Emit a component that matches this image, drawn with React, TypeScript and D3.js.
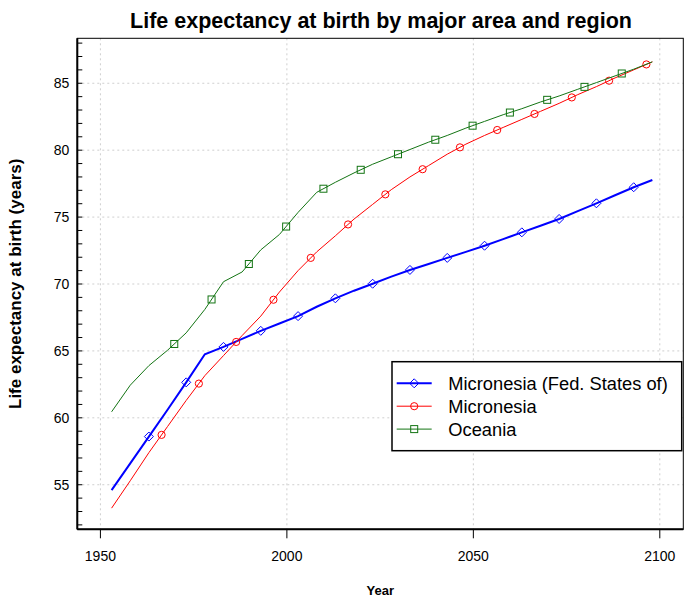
import * as d3 from "d3";

const years = d3.range(1953, 2099, 5);

const fsmValues = [
  54.6, 56.6, 58.6, 60.6, 62.65, 64.75, 65.3, 65.9, 66.5, 67.05, 67.6, 68.3,
  68.93, 69.5, 70.02, 70.55, 71.05, 71.5, 71.95, 72.4, 72.86, 73.35, 73.86,
  74.35, 74.86, 75.45, 76.03, 76.63, 77.23, 77.77,
];

const micronesiaValues = [
  53.25, 55.3, 57.4, 59.35, 61.3, 63.15, 64.65, 66.15, 67.6, 69.4, 71.0, 72.4,
  73.6, 74.85, 75.95, 77.05, 78.0, 78.85, 79.7, 80.45, 81.1, 81.7, 82.3, 82.9,
  83.5, 84.15, 84.75, 85.4, 86.0, 86.6,
];

const oceaniaValues = [
  60.45, 62.44, 63.9, 65.05, 66.35, 68.1, 70.17, 70.9, 72.55, 73.7, 75.35,
  76.85, 77.6, 78.3, 78.95, 79.5, 80.05, 80.6, 81.1, 81.65, 82.15, 82.65, 83.1,
  83.6, 84.05, 84.55, 85.05, 85.55, 86.05, 86.6,
];

const seriesNames = ["Micronesia (Fed. States of)", "Micronesia", "Oceania"];

const xTicks = [1950, 2000, 2050, 2100];
const yTicks = [55, 60, 65, 70, 75, 80, 85];

type Shape = "diamond" | "circle" | "square";

const series = [
  { name: seriesNames[0], values: fsmValues, color: "#0000ff", width: 2, shape: "diamond" as Shape, markFrom: 1963 },
  { name: seriesNames[1], values: micronesiaValues, color: "#ff0000", width: 1, shape: "circle" as Shape, markFrom: 1966.4 },
  { name: seriesNames[2], values: oceaniaValues, color: "#137413", width: 1, shape: "square" as Shape, markFrom: 1969.8 },
];

const font = "'Liberation Sans', Arial, Helvetica, sans-serif";

const Marker = ({ x, y, shape, color }: { x: number; y: number; shape: Shape; color: string }) => {
  if (shape === "diamond") {
    const r = 4.5;
    return (
      <path
        d={`M${x},${y - r}L${x + r},${y}L${x},${y + r}L${x - r},${y}Z`}
        fill="none"
        stroke={color}
        strokeWidth={1}
      />
    );
  }
  if (shape === "circle") {
    return <circle cx={x} cy={y} r={3.6} fill="none" stroke={color} strokeWidth={1} />;
  }
  return <rect x={x - 3.5} y={y - 3.5} width={7} height={7} fill="none" stroke={color} strokeWidth={1} />;
};

export default function App() {
  const width = 695;
  const height = 600;
  const left = 77.3;
  const right = 683.3;
  const top = 38.3;
  const bottom = 529.3;

  const xScale = d3.scaleLinear().domain([1943.8, 2106.3]).range([left, right]);
  const yScale = d3.scaleLinear().domain([51.67, 88.36]).range([bottom, top]);

  const line = d3
    .line<number>()
    .x((_, i) => xScale(years[i]))
    .y((d) => yScale(d));

  // marker position along a series line
  const interp = (values: number[], yr: number) => {
    const i = Math.min(Math.floor((yr - years[0]) / 5), years.length - 2);
    const t = (yr - years[i]) / 5;
    return values[i] + (values[i + 1] - values[i]) * t;
  };

  const minorTicks = d3.range(52, 89, 1);

  return (
    <div style={{ position: "fixed", left: 0, top: 0 }}>
      <svg width={width} height={height} style={{ display: "block", background: "#fff" }} fontFamily={font}>
        {/* grid */}
        {xTicks.map((t) => (
          <line key={"gx" + t} x1={xScale(t)} x2={xScale(t)} y1={top} y2={bottom} stroke="#cfcfcf" strokeDasharray="2,3" />
        ))}
        {yTicks.map((t) => (
          <line key={"gy" + t} x1={left} x2={right} y1={yScale(t)} y2={yScale(t)} stroke="#cfcfcf" strokeDasharray="2,3" />
        ))}

        {/* frame */}
        <rect x={left} y={top} width={right - left} height={bottom - top} fill="none" stroke="#000" strokeWidth={1} />
        <line x1={left} x2={left} y1={top} y2={bottom} stroke="#000" strokeWidth={2} />
        <line x1={left} x2={right} y1={bottom} y2={bottom} stroke="#000" strokeWidth={2} />

        {/* y ticks */}
        {minorTicks.map((t) => (
          <line key={"ty" + t} x1={left} x2={left + 5} y1={yScale(t)} y2={yScale(t)} stroke="#000" strokeWidth={1} />
        ))}
        {yTicks.map((t) => (
          <text key={"ly" + t} x={left - 8} y={yScale(t)} dy="0.36em" textAnchor="end" fontSize={14}>
            {t}
          </text>
        ))}

        {/* x ticks */}
        {xTicks.map((t) => (
          <g key={"tx" + t}>
            <line x1={xScale(t)} x2={xScale(t)} y1={bottom} y2={bottom + 9} stroke="#000" strokeWidth={1} />
            <text x={xScale(t)} y={561} textAnchor="middle" fontSize={14}>
              {t}
            </text>
          </g>
        ))}

        {/* series */}
        {series.map((s) => (
          <g key={s.name}>
            <path d={line(s.values) ?? ""} fill="none" stroke={s.color} strokeWidth={s.width} />
            {d3.range(s.markFrom, 2098, 10).map((yr) => (
              <Marker key={yr} x={xScale(yr)} y={yScale(interp(s.values, yr))} shape={s.shape} color={s.color} />
            ))}
          </g>
        ))}

        {/* legend */}
        <rect x={392} y={361.7} width={289.7} height={89} fill="#fff" stroke="#000" strokeWidth={1.5} />
        {series.map((s, i) => {
          const ly = 383.3 + i * 22.9;
          return (
            <g key={"lg" + s.name}>
              <line x1={396.7} x2={431.7} y1={ly} y2={ly} stroke={s.color} strokeWidth={s.width} />
              <Marker x={414.2} y={ly} shape={s.shape} color={s.color} />
              <text x={448.3} y={ly} dy="0.36em" fontSize={18.3}>
                {s.name}
              </text>
            </g>
          );
        })}

        {/* labels */}
        <text x={381} y={28.3} textAnchor="middle" fontSize={21.5} fontWeight="bold">
          Life expectancy at birth by major area and region
        </text>
        <text x={380.3} y={595} textAnchor="middle" fontSize={13} fontWeight="bold">
          Year
        </text>
        <text
          transform={`translate(21,${(top + bottom) / 2}) rotate(-90)`}
          textAnchor="middle"
          fontSize={17}
          fontWeight="bold"
        >
          Life expectancy at birth (years)
        </text>
      </svg>
    </div>
  );
}
